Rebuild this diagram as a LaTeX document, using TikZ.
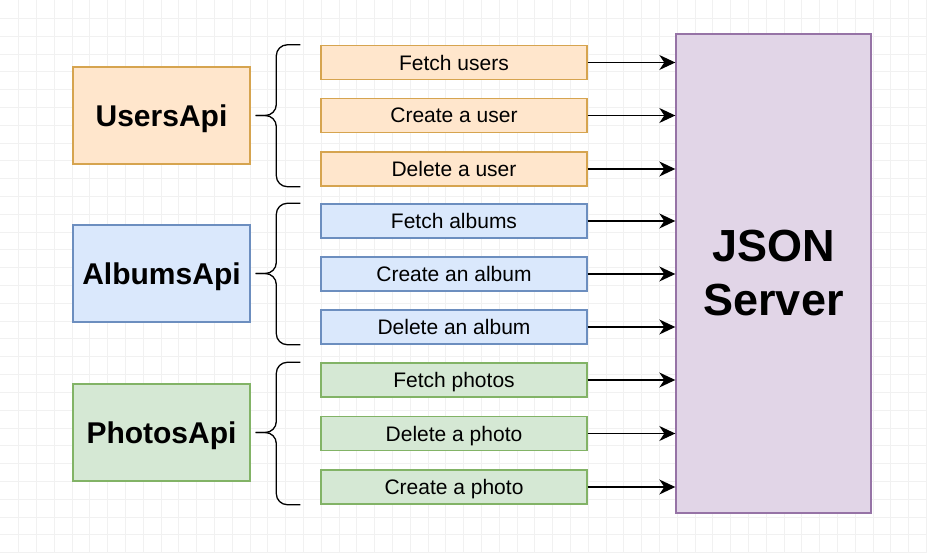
\documentclass[tikz,border=0pt]{standalone}
\usepackage{fontspec}
\setmainfont{Liberation Sans}
\usetikzlibrary{arrows.meta}
\definecolor{usrfill}{HTML}{FFE6CC}
\definecolor{usrline}{HTML}{D6A44F}
\definecolor{albfill}{HTML}{DAE8FC}
\definecolor{albline}{HTML}{6C8EBF}
\definecolor{phofill}{HTML}{D5E8D4}
\definecolor{pholine}{HTML}{82B366}
\definecolor{srvfill}{HTML}{E1D5E7}
\definecolor{srvline}{HTML}{9673A6}
\definecolor{gridcol}{HTML}{F1F1F1}
\tikzset{
  apibox/.style={draw=#1line,fill=#1fill,line width=1.4pt,inner sep=0pt,text depth=0pt,
    minimum width=177pt,minimum height=97pt,font=\fontsize{30}{36}\selectfont\bfseries},
  callbox/.style={draw=#1line,fill=#1fill,line width=1.4pt,inner sep=0pt,text depth=0pt,
    minimum width=266pt,minimum height=34pt,font=\fontsize{21}{25}\selectfont},
  callarrow/.style={line width=1.4pt,-{Stealth[length=16pt,width=15pt,inset=5pt]}},
  bracepath/.style={line width=1.3pt,rounded corners=11pt}
}
\begin{document}
\begin{tikzpicture}[x=1pt,y=-1pt]
        \useasboundingbox[fill=white](0,0)rectangle(927,553);
        \foreach \k in {0,...,51}
          \draw[gridcol,line width=0.8pt](18.5+17.8*\k,0)--(18.5+17.8*\k,553);
        \foreach \k in {0,...,30}
          \draw[gridcol,line width=0.8pt](0,18.5+17.8*\k)--(927,18.5+17.8*\k);
        % server
        \node[draw=srvline,fill=srvfill,line width=1.4pt,inner sep=0pt,minimum width=195pt,
          minimum height=479pt,align=center,font=\fontsize{45}{54}\selectfont\bfseries]
          (srv)at(773.5,273.5){JSON\\Server};
        % groups
        \node[apibox=usr](users)at(161.5,115.5){UsersApi};
        \node[apibox=alb](albums)at(161.5,273.5){AlbumsApi};
        \node[apibox=pho](photos)at(161.5,432.5){PhotosApi};
        % calls
        \node[callbox=usr](fu)at(454,62.5){Fetch users};
        \node[callbox=usr](cu)at(454,115.5){Create a user};
        \node[callbox=usr](du)at(454,169){Delete a user};
        \node[callbox=alb](fa)at(454,221){Fetch albums};
        \node[callbox=alb](ca)at(454,274){Create an album};
        \node[callbox=alb](da)at(454,327){Delete an album};
        \node[callbox=pho](fp)at(454,380){Fetch photos};
        \node[callbox=pho](dp)at(454,433.5){Delete a photo};
        \node[callbox=pho](cp)at(454,487){Create a photo};
        \foreach \c in {fu,cu,du,fa,ca,da,fp,dp,cp}
          \draw[callarrow](\c.east)--(\c.east-|srv.west);
        % braces
        \foreach \g/\t/\b in {users/fu/du,albums/fa/da,photos/fp/cp}{
          \coordinate(\g tip)at([xshift=5pt]\g.east);
          \coordinate(\g top)at([xshift=-20pt]\t.north west);
          \coordinate(\g bot)at([xshift=-20pt]\b.south west);
          \draw[bracepath](\g top)--([xshift=-24pt]\g top)--([xshift=-24pt]\g top|-\g tip)--(\g tip);
          \draw[bracepath](\g bot)--([xshift=-24pt]\g bot)--([xshift=-24pt]\g bot|-\g tip)--(\g tip);
        }
    \end{tikzpicture}
\end{document}
